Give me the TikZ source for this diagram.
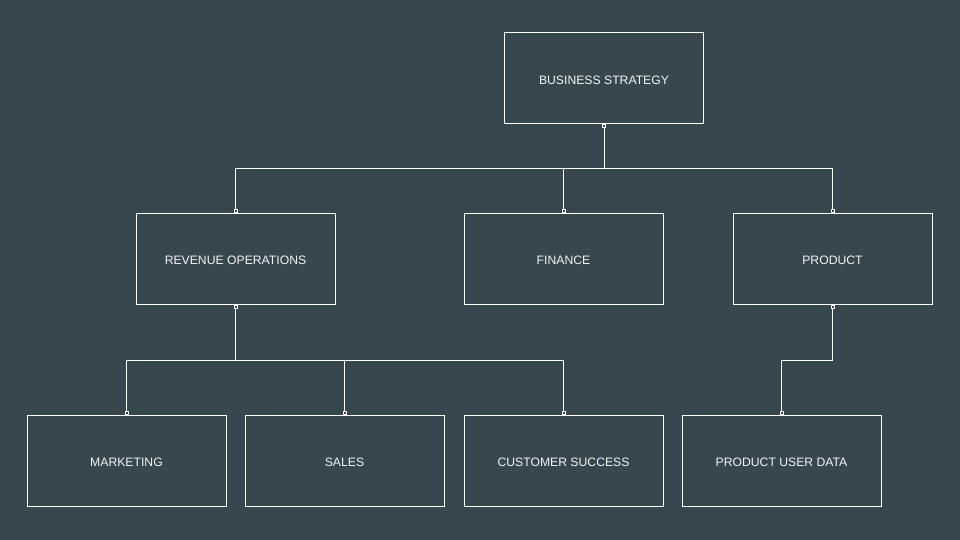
\documentclass[tikz,border=0pt]{standalone}
\usepackage{fontspec}
\setmainfont{Liberation Sans}
\usetikzlibrary{arrows.meta}
\definecolor{bgc}{HTML}{37474F}
\definecolor{txtc}{HTML}{F2F4F5}
\begin{document}
\begin{tikzpicture}[x=1pt,y=-1pt,
  box/.style={draw=white, line width=1pt, minimum width=199pt, minimum height=91pt, inner sep=0pt, text=txtc, text height=11.8pt, text depth=0pt, font=\fontsize{12.2}{14}\selectfont},
  conn/.style={draw=white, line width=1pt, {Square[open,length=4pt,width=4pt]}-{Square[open,length=4pt,width=4pt]}}]
\fill[bgc] (0,0) rectangle (960,540);
\useasboundingbox (0,0) rectangle (960,540);
\node[box] (bs) at (604,78.5) {BUSINESS STRATEGY};
\node[box] (rev) at (235.5,258.5) {REVENUE OPERATIONS};
\node[box] (fin) at (563.5,258.5) {FINANCE};
\node[box] (prod) at (832.5,258.5) {PRODUCT};
\node[box] (mkt) at (126.5,460.5) {MARKETING};
\node[box] (sales) at (344.5,460.5) {SALES};
\node[box] (cs) at (563.5,460.5) {CUSTOMER SUCCESS};
\node[box] (pud) at (781.5,460.5) {PRODUCT USER DATA};
\coordinate (j1) at (604,169);
\coordinate (j2) at (236,360);
\coordinate (j3) at (833,360);
\draw[conn] (bs.south) -- (bs.south |- j1) -| (rev.north);
\draw[conn] (bs.south) -- (bs.south |- j1) -| (fin.north);
\draw[conn] (bs.south) -- (bs.south |- j1) -| (prod.north);
\draw[conn] (rev.south) -- (rev.south |- j2) -| (mkt.north);
\draw[conn] (rev.south) -- (rev.south |- j2) -| (sales.north);
\draw[conn] (rev.south) -- (rev.south |- j2) -| (cs.north);
\draw[conn] (prod.south) -- (prod.south |- j3) -| (pud.north);
\end{tikzpicture}
\end{document}
